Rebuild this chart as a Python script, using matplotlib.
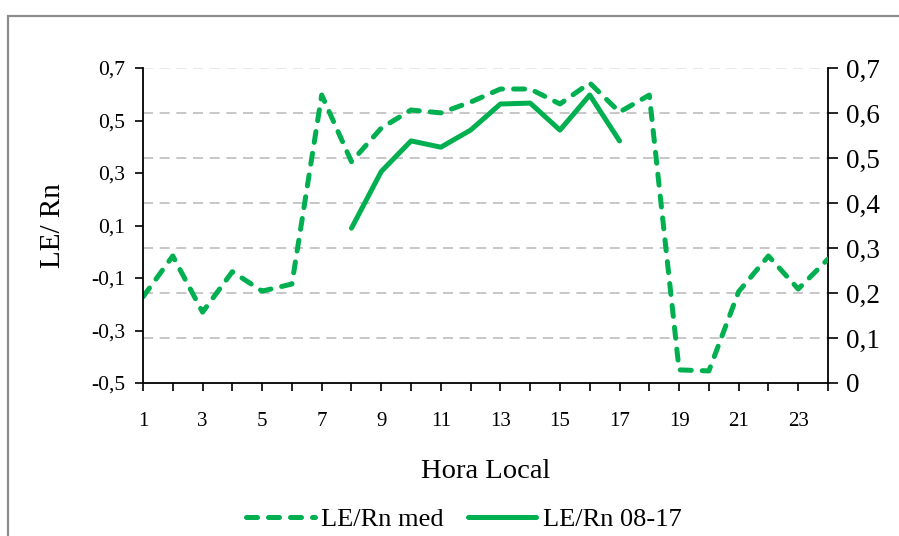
import matplotlib
matplotlib.use("Agg")
import matplotlib.pyplot as plt
from matplotlib.lines import Line2D
from matplotlib.patches import Rectangle

# Hourly LE/Rn ratios
hours = list(range(1, 25))
le_rn_med = [-0.172, -0.016, -0.230, -0.076, -0.150, -0.123, 0.597, 0.343,
             0.471, 0.540, 0.529, 0.570, 0.620, 0.620, 0.563, 0.643,
             0.532, 0.597, -0.450, -0.454, -0.152, -0.016, -0.142, -0.028]
hours_day = list(range(8, 18))
le_rn_day = [0.344, 0.470, 0.538, 0.524, 0.562, 0.620, 0.622, 0.562, 0.640, 0.538]

left_ticks = [-0.5, -0.3, -0.1, 0.1, 0.3, 0.5, 0.7]
left_labels = ["-0,5", "-0,3", "-0,1", "0,1", "0,3", "0,5", "0,7"]
right_ticks = [0, 0.1, 0.2, 0.3, 0.4, 0.5, 0.6, 0.7]
right_labels = ["0", "0,1", "0,2", "0,3", "0,4", "0,5", "0,6", "0,7"]
x_labels = [str(h) if h % 2 == 1 else "" for h in hours]

plt.rcParams["font.family"] = ["Liberation Serif", "DejaVu Serif"]
GREEN = "#00B050"
DASH = (0, (2.2, 2.2))

fig = plt.figure(figsize=(8.99, 5.36), dpi=100)
ax = fig.add_axes([143 / 899, 1 - 383 / 536, (828 - 143) / 899, (383 - 68) / 536])
ax2 = ax.twinx()
ax.set_zorder(ax2.get_zorder() + 1)
ax.patch.set_visible(False)

# horizontal guide lines at the secondary-axis ticks
for t in right_ticks[1:]:
    col = "#E3E3E3" if t == right_ticks[-1] else "#BDBDBD"
    ax2.axhline(t, color=col, lw=1.2, ls=(0, (6, 4)), zorder=0)

ax.plot(hours, le_rn_med, color=GREEN, lw=3.6, ls=DASH,
        dash_capstyle="round", solid_joinstyle="round")
ax2.plot(hours_day, le_rn_day, color=GREEN, lw=3.6,
         solid_capstyle="round", solid_joinstyle="round")

ax.set_xlim(1, 24)
ax.set_ylim(-0.5, 0.7)
ax2.set_ylim(0, 0.7)

ax.set_xticks(hours)
ax.set_xticklabels(x_labels, fontsize=15)
ax.set_yticks(left_ticks)
ax.set_yticklabels(left_labels, fontsize=15.5)
ax2.set_yticks(right_ticks)
ax2.set_yticklabels(right_labels, fontsize=19.5)

ax.tick_params(axis="x", direction="out", length=6, width=1.2, pad=15)
ax.tick_params(axis="y", direction="out", length=6, width=1.2, pad=7)
ax2.tick_params(axis="y", direction="out", length=7, width=1.2, pad=6)

for a in (ax, ax2):
    a.spines["top"].set_visible(False)
    for s in a.spines.values():
        s.set_linewidth(1.3)
ax.spines["right"].set_visible(False)
ax2.spines["left"].set_visible(False)
ax2.spines["bottom"].set_visible(False)

ax.set_ylabel("LE/ Rn", fontsize=21, labelpad=18)
ax.set_xlabel("Hora Local", fontsize=20.5, labelpad=20)

handles = [
    Line2D([], [], color=GREEN, lw=3.6, ls=DASH, dash_capstyle="round"),
    Line2D([], [], color=GREEN, lw=3.6, solid_capstyle="round"),
]
fig.legend(handles, ["LE/Rn med", "LE/Rn 08-17"], loc="center",
           bbox_to_anchor=(464 / 899, 1 - 519 / 536), ncol=2, frameon=False,
           fontsize=19, handlelength=2.6, handletextpad=0.25, columnspacing=0.9)

# chart-area frame
fig.patches.append(Rectangle((8 / 899, -0.2), 1.2, 1 - 16 / 536 + 0.2,
                             transform=fig.transFigure, fill=False,
                             edgecolor="#8C8C8C", lw=1.6, zorder=10))

fig.savefig("out.png", dpi=100)
